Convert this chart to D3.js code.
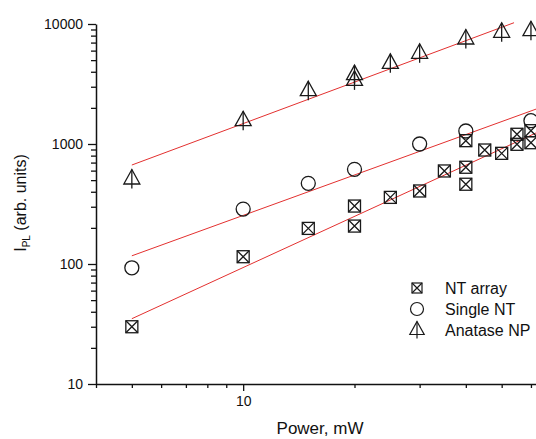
<!DOCTYPE html>
<html>
<head>
<meta charset="utf-8">
<script src="https://cdn.jsdelivr.net/npm/d3@7"></script>
<style>
  body { margin: 0; background: #fff; }
  svg { display: block; font-family: "Liberation Sans", Arial, sans-serif; }
</style>
</head>
<body>
<svg id="chart" width="536" height="439"></svg>
<script>
// Data (power in mW, PL intensity in arb. units)
const ntArrayX = [5, 10, 15, 20, 20, 25, 30, 35, 40, 40, 40, 45, 50, 55, 55, 60, 60];
const ntArrayY = [30, 115, 198, 304, 207, 359, 406, 596, 640, 462, 1066, 891, 836, 1205, 994, 1291, 1025];

const singleNtX = [5, 10, 15, 20, 30, 40, 60];
const singleNtY = [93, 287, 470, 615, 1000, 1283, 1563];

const anataseX = [5, 10, 15, 20, 20, 25, 30, 40, 50, 60];
const anataseY = [511, 1563, 2780, 3790, 3390, 4700, 5700, 7500, 8530, 8790];

// fitted lines: end points
const ntArrayFitX = [5, 70];
const ntArrayFitY = [35, 1470];
const singleNtFitX = [5, 70];
const singleNtFitY = [117, 2240];
const anataseFitX = [5, 54];
const anataseFitY = [668, 10250];

const xMajorTicks = [10];
const xMinorTicks = [4, 5, 6, 7, 8, 9, 20, 30, 40, 50, 60, 70, 80, 90];
const yMajorTicks = [10, 100, 1000, 10000];
const yMinorTicks = [20, 30, 40, 50, 60, 70, 80, 90, 200, 300, 400, 500, 600, 700, 800, 900,
                     2000, 3000, 4000, 5000, 6000, 7000, 8000, 9000];

const legendNames = ["NT array", "Single NT", "Anatase NP"];

const svg = d3.select("#chart");

// Scales
const xScale = d3.scaleLog().domain([4, 100]).range([96, 613]);
const yScale = d3.scaleLog().domain([10, 10000]).range([384, 24]);

// Axes
const xAxisY = yScale(10);
const yAxisX = xScale(4);

svg.append("g")
    .attr("transform", `translate(0, ${xAxisY})`)
    .call(d3.axisBottom(xScale).tickValues(xMinorTicks).tickSize(4).tickSizeOuter(0).tickFormat(""))
    .call(g => g.select(".domain").remove())
    .selectAll("line").attr("stroke", "#111").attr("stroke-width", 1.3);

const xAxisGroup = svg.append("g")
    .attr("transform", `translate(0, ${xAxisY})`)
    .call(d3.axisBottom(xScale).tickValues(xMajorTicks).tickSize(7).tickSizeOuter(0).tickPadding(5).tickFormat(d3.format("d")));

svg.append("g")
    .attr("transform", `translate(${yAxisX}, 0)`)
    .call(d3.axisLeft(yScale).tickValues(yMinorTicks).tickSize(5).tickSizeOuter(0).tickFormat(""))
    .call(g => g.select(".domain").remove())
    .selectAll("line").attr("stroke", "#111").attr("stroke-width", 1.3);

const yAxisGroup = svg.append("g")
    .attr("transform", `translate(${yAxisX}, 0)`)
    .call(d3.axisLeft(yScale).tickValues(yMajorTicks).tickSize(8).tickSizeOuter(0).tickPadding(5).tickFormat(d3.format("d")));

[xAxisGroup, yAxisGroup].forEach(g => {
    g.select(".domain").attr("stroke", "#111").attr("stroke-width", 1.5);
    g.selectAll(".tick line").attr("stroke", "#111").attr("stroke-width", 1.3);
    g.selectAll(".tick text")
        .attr("fill", "#111")
        .style("font-family", "'Liberation Sans', Arial, sans-serif")
        .style("font-size", "14px");
});

// Axis titles
svg.append("text")
    .attr("x", 320)
    .attr("y", 434)
    .attr("text-anchor", "middle")
    .attr("fill", "#111")
    .style("font-size", "17px")
    .text("Power, mW");

const yTitle = svg.append("text")
    .attr("transform", "translate(26, 203) rotate(-90)")
    .attr("text-anchor", "middle")
    .attr("fill", "#111")
    .style("font-size", "16px");
yTitle.append("tspan").text("I");
yTitle.append("tspan").attr("dy", 4).style("font-size", "10px").text("PL");
yTitle.append("tspan").attr("dy", -4).text(" (arb. units)");

// Fit lines
const line = d3.line()
    .x(d => xScale(d[0]))
    .y(d => yScale(d[1]));

const fits = [
    d3.zip(ntArrayFitX, ntArrayFitY),
    d3.zip(singleNtFitX, singleNtFitY),
    d3.zip(anataseFitX, anataseFitY)
];

svg.append("g")
    .selectAll("path")
    .data(fits)
    .enter().append("path")
    .attr("d", d => line(d))
    .attr("fill", "none")
    .attr("stroke", "#e3302f")
    .attr("stroke-width", 1);

// Marker drawing helpers
function drawSquare(g, s) {
    g.append("rect")
        .attr("x", -s / 2).attr("y", -s / 2)
        .attr("width", s).attr("height", s)
        .attr("fill", "none");
    g.append("path")
        .attr("d", `M${-s / 2},${-s / 2}L${s / 2},${s / 2}M${s / 2},${-s / 2}L${-s / 2},${s / 2}`);
}

function drawCircle(g, r) {
    g.append("circle").attr("r", r).attr("fill", "none");
}

function drawTriangle(g, k) {
    g.append("path")
        .attr("d", `M0,${-9.5 * k}L${8 * k},${5 * k}L${-8 * k},${5 * k}Z`)
        .attr("fill", "none");
    g.append("path")
        .attr("d", `M0,${-9.5 * k}L0,${9.5 * k}`);
}

const markerDrawers = [
    g => drawSquare(g, 12),
    g => drawCircle(g, 7),
    g => drawTriangle(g, 1)
];

const seriesList = [
    d3.zip(ntArrayX, ntArrayY),
    d3.zip(singleNtX, singleNtY),
    d3.zip(anataseX, anataseY)
];

seriesList.forEach((pts, i) => {
    svg.append("g")
        .attr("stroke", "#1a1a1a")
        .attr("stroke-width", 1.3)
        .attr("fill", "none")
        .selectAll("g")
        .data(pts)
        .enter().append("g")
        .attr("transform", d => `translate(${xScale(d[0])}, ${yScale(d[1])})`)
        .each(function () { markerDrawers[i](d3.select(this)); });
});

// Legend
const legendMarkers = [
    g => drawSquare(g, 10),
    g => drawCircle(g, 6.5),
    g => drawTriangle(g, 0.9)
];

const legend = svg.append("g")
    .attr("transform", "translate(417, 288)");

legend.selectAll(".legend-item")
    .data(legendNames)
    .enter().append("g")
    .attr("class", "legend-item")
    .attr("transform", (d, i) => `translate(0, ${i * 21})`)
    .each(function (d, i) {
        const mk = d3.select(this).append("g")
            .attr("stroke", "#1a1a1a")
            .attr("stroke-width", 1.2)
            .attr("fill", "none");
        legendMarkers[i](mk);
        d3.select(this).append("text")
            .attr("x", 28)
            .attr("y", 6)
            .attr("fill", "#111")
            .style("font-size", "16px")
            .text(d);
    });
</script>
</body>
</html>
